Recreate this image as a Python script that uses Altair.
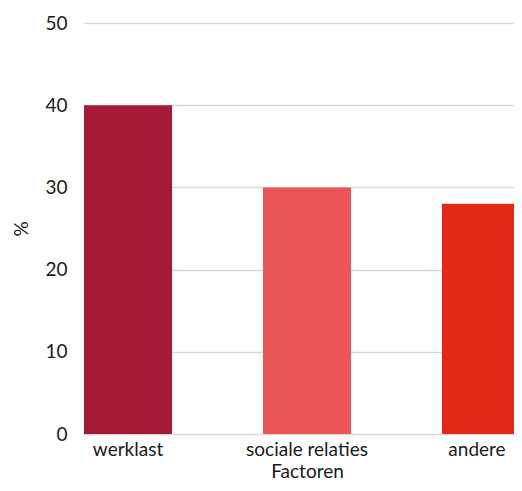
import altair as alt
import pandas as pd

factoren = ["werklast", "sociale relaties", "andere"]
waarden = [40, 30, 28]
kleuren = ["#A51A35", "#E85755", "#E42818"]

df = pd.DataFrame({"Factoren": factoren, "pct": waarden})

FONT = "Lato"
FS = 19

chart = alt.Chart(df).mark_bar(clip=True).encode(
    x=alt.X("Factoren:N", sort=factoren,
            scale=alt.Scale(range=[0, 446], paddingInner=0.508, paddingOuter=0),
            axis=alt.Axis(title="Factoren", labelAngle=0, ticks=False, domain=False,
                          labelFontSize=FS, titleFontSize=FS, labelPadding=6,
                          titlePadding=3, titleFontWeight="normal",
                          labelOffset={"condition": {"test": "datum.value == 'andere'", "value": -9}, "value": 0},
                          labelColor="#1a1a1a", titleColor="#1a1a1a", labelFont=FONT, titleFont=FONT)),
    y=alt.Y("pct:Q", scale=alt.Scale(domain=[0, 50]),
            axis=alt.Axis(title="%", values=[0, 10, 20, 30, 40, 50], ticks=False, domain=False,
                          labelFontSize=FS, titleFontSize=FS, labelPadding=17,
                          titlePadding=13, titleFontWeight="normal",
                          gridColor="#d9d9d9", gridWidth=1.5,
                          labelColor="#1a1a1a", titleColor="#1a1a1a", labelFont=FONT, titleFont=FONT)),
    color=alt.Color("Factoren:N", sort=factoren,
                    scale=alt.Scale(domain=factoren, range=kleuren), legend=None),
).properties(
    width=430, height=411,
    autosize=alt.AutoSizeParams(type="none"),
    padding={"left": 76, "top": 15, "right": 0, "bottom": 49},
).configure_view(stroke=None)

chart.save("out.html", embed_options={"renderer": "svg", "actions": False})
